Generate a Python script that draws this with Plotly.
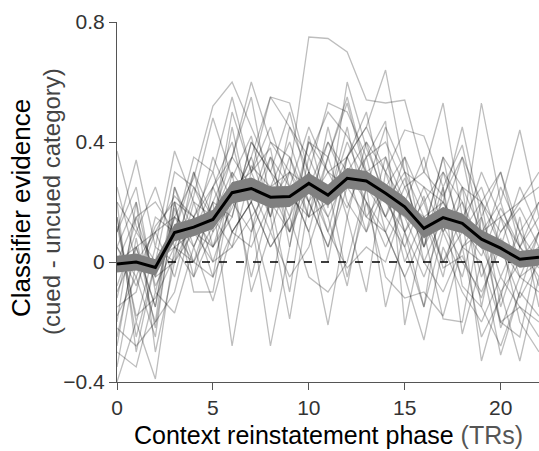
import plotly.graph_objects as go

trs = list(range(23))

mean_evidence = [-0.007, 0.0, -0.018, 0.098, 0.116, 0.142, 0.231, 0.245, 0.216, 0.218, 0.262, 0.223,
                 0.279, 0.27, 0.229, 0.184, 0.112, 0.148, 0.129, 0.076, 0.046, 0.009, 0.016]
sem_evidence = [0.028, 0.028, 0.027, 0.029, 0.030, 0.032, 0.036, 0.037, 0.036, 0.035, 0.035, 0.035,
                0.034, 0.033, 0.033, 0.033, 0.033, 0.035, 0.033, 0.031, 0.029, 0.028, 0.028]

subjects = [
    [0.05, -0.08, 0.10, 0.22, 0.15, 0.05, 0.18, 0.32, 0.25, 0.30, 0.75, 0.745, 0.70, 0.54, 0.53, 0.54, 0.30, 0.22, 0.35, 0.20, 0.10, 0.18, 0.05],
    [0.37, 0.12, -0.05, 0.15, 0.28, 0.52, 0.60, 0.45, 0.30, 0.22, 0.15, 0.35, 0.53, 0.28, 0.20, 0.10, -0.05, 0.12, 0.00, -0.10, 0.05, -0.12, 0.00],
    [-0.40, -0.20, -0.39, 0.05, 0.10, 0.25, 0.35, 0.60, 0.40, 0.35, 0.20, 0.30, 0.18, 0.35, 0.40, 0.25, 0.10, 0.20, 0.05, 0.15, -0.05, 0.10, -0.08],
    [0.10, 0.34, 0.05, 0.37, 0.20, 0.15, 0.30, 0.20, 0.05, 0.15, 0.30, 0.10, 0.35, 0.45, 0.64, 0.30, 0.25, 0.10, 0.20, 0.05, -0.10, 0.00, 0.10],
    [-0.30, -0.35, -0.10, -0.17, 0.05, -0.13, 0.10, 0.20, 0.35, 0.10, 0.25, 0.15, 0.30, 0.20, 0.10, -0.05, -0.26, 0.05, -0.10, -0.20, -0.05, -0.15, -0.20],
    [0.20, 0.10, 0.25, 0.05, 0.00, 0.20, -0.28, 0.10, 0.25, 0.40, 0.20, 0.05, 0.25, 0.30, 0.15, 0.35, 0.20, 0.30, 0.10, 0.53, 0.20, 0.44, 0.15],
    [-0.10, 0.05, -0.15, 0.20, -0.05, 0.25, 0.40, 0.15, -0.28, 0.05, 0.35, 0.20, 0.45, 0.15, 0.25, 0.00, 0.15, -0.05, 0.25, 0.10, 0.20, 0.00, 0.05],
    [0.15, -0.25, 0.00, 0.30, 0.25, 0.10, 0.20, 0.35, 0.15, -0.19, 0.20, 0.40, 0.30, 0.10, 0.35, 0.20, 0.05, 0.25, -0.24, 0.00, -0.31, -0.10, 0.10],
    [-0.20, 0.20, -0.30, 0.00, 0.30, 0.05, 0.25, 0.30, 0.45, 0.25, 0.10, -0.21, 0.15, 0.40, 0.30, 0.10, 0.20, 0.00, 0.15, -0.33, -0.10, -0.33, -0.05],
    [0.00, 0.15, 0.20, 0.10, 0.35, 0.30, 0.55, 0.30, 0.55, 0.45, 0.30, 0.53, 0.50, 0.35, 0.47, -0.21, 0.10, 0.35, 0.25, 0.20, 0.30, 0.05, 0.20],
    [-0.22, -0.28, -0.20, -0.10, 0.15, 0.30, 0.10, 0.05, 0.20, 0.30, 0.25, 0.10, -0.02, 0.05, 0.00, 0.20, 0.10, -0.19, -0.20, 0.15, -0.22, -0.05, -0.10],
    [0.25, 0.00, -0.20, 0.25, 0.05, 0.20, 0.15, 0.40, 0.30, 0.15, 0.40, 0.30, 0.35, 0.45, 0.30, 0.44, 0.42, 0.25, 0.39, 0.10, 0.15, 0.20, 0.25],
    [-0.15, -0.10, 0.15, 0.10, 0.00, -0.05, 0.30, -0.10, 0.10, -0.05, 0.05, 0.25, -0.05, 0.20, -0.05, -0.12, -0.10, -0.18, 0.05, -0.25, -0.12, 0.15, -0.15],
    [0.10, 0.25, -0.10, 0.15, 0.10, 0.35, 0.20, 0.10, 0.35, 0.25, 0.45, 0.30, 0.25, 0.35, 0.10, 0.25, 0.30, 0.53, 0.15, 0.25, 0.05, -0.05, 0.10],
    [-0.25, 0.05, 0.10, -0.05, 0.20, 0.00, 0.05, 0.30, 0.15, 0.35, 0.15, 0.20, 0.40, 0.25, 0.45, 0.30, 0.00, 0.15, 0.35, 0.05, 0.25, 0.10, 0.00],
    [0.05, -0.05, -0.25, 0.20, -0.10, -0.10, 0.25, -0.05, 0.20, -0.10, 0.30, 0.15, -0.08, 0.25, 0.15, 0.05, -0.15, 0.10, -0.05, 0.20, -0.15, 0.05, 0.15],
    [-0.08, 0.10, 0.00, 0.05, 0.25, 0.15, 0.35, 0.55, 0.20, 0.10, 0.40, 0.35, 0.55, 0.30, 0.35, 0.10, 0.25, 0.20, 0.10, 0.30, 0.15, 0.05, -0.05],
    [0.15, -0.20, 0.05, 0.00, 0.15, 0.25, 0.10, 0.20, 0.40, 0.30, 0.15, 0.45, 0.20, 0.10, 0.25, 0.35, 0.05, 0.30, 0.20, -0.05, 0.10, 0.20, 0.30],
    [-0.35, 0.00, 0.10, 0.15, 0.05, 0.20, 0.35, 0.25, 0.10, 0.30, 0.20, 0.05, 0.30, 0.40, 0.20, 0.15, 0.00, -0.10, 0.05, 0.10, -0.20, -0.15, -0.25],
    [0.00, 0.05, -0.15, 0.25, 0.10, 0.00, 0.20, 0.35, 0.55, 0.53, 0.30, 0.20, 0.35, 0.20, 0.05, 0.20, 0.15, 0.00, 0.10, 0.20, 0.05, 0.25, 0.10],
    [0.20, -0.30, 0.00, 0.10, 0.30, 0.15, 0.05, 0.15, -0.10, 0.25, 0.10, 0.35, 0.15, -0.10, 0.30, 0.20, 0.35, 0.10, 0.25, -0.15, 0.15, -0.05, 0.00],
    [-0.12, 0.15, -0.05, 0.00, 0.10, 0.05, 0.15, 0.40, 0.30, 0.50, 0.25, 0.40, 0.25, 0.15, 0.10, -0.05, 0.10, 0.35, 0.05, 0.00, -0.20, -0.25, 0.05],
    [0.05, 0.20, -0.08, 0.05, -0.05, 0.10, 0.45, 0.15, 0.25, 0.10, 0.30, 0.00, 0.35, 0.50, 0.20, 0.30, 0.15, 0.20, 0.45, 0.15, 0.30, 0.10, 0.20],
    [-0.18, -0.05, 0.12, 0.20, 0.15, -0.05, 0.10, 0.20, 0.05, 0.15, -0.05, -0.10, 0.00, 0.25, -0.15, 0.10, -0.15, 0.25, -0.08, -0.15, -0.28, -0.10, -0.18],
    [0.12, -0.18, -0.12, 0.02, 0.22, 0.48, 0.28, 0.42, 0.15, 0.45, 0.35, 0.50, 0.42, 0.30, 0.15, 0.28, 0.05, 0.18, 0.12, 0.02, 0.18, 0.05, -0.02],
    [-0.28, 0.08, -0.22, 0.18, 0.00, 0.12, 0.50, 0.30, 0.38, 0.05, 0.42, 0.18, 0.60, 0.38, 0.22, 0.05, 0.22, -0.02, 0.02, -0.12, 0.08, -0.20, -0.30],
]

y_tickvals = [-0.4, 0, 0.4, 0.8]
y_ticktext = ["\u22120.4", "0", "0.4", "0.8"]
x_tickvals = [0, 5, 10, 15, 20]

FONT = "Liberation Sans, Arial, Helvetica, sans-serif"

fig = go.Figure()

for s in subjects:
    fig.add_trace(go.Scatter(x=trs, y=s, mode="lines",
                             line=dict(color="rgba(0,0,0,0.26)", width=1.3),
                             hoverinfo="skip", showlegend=False))

fig.add_trace(go.Scatter(x=[trs[0], trs[-1]], y=[0, 0], mode="lines",
                         line=dict(color="black", width=1.5, dash="8px,9px"),
                         hoverinfo="skip", showlegend=False))

upper = [m + e for m, e in zip(mean_evidence, sem_evidence)]
lower = [m - e for m, e in zip(mean_evidence, sem_evidence)]
fig.add_trace(go.Scatter(x=trs + trs[::-1], y=upper + lower[::-1], mode="lines",
                         fill="toself", fillcolor="rgb(128,128,128)",
                         line=dict(width=0), hoverinfo="skip", showlegend=False))
fig.add_trace(go.Scatter(x=trs, y=mean_evidence, mode="lines",
                         line=dict(color="black", width=3),
                         showlegend=False))

axis_common = dict(showgrid=False, zeroline=False, showline=True, linecolor="#555",
                   linewidth=1, ticks="outside", ticklen=7, tickcolor="#555",
                   tickfont=dict(family=FONT, size=21, color="#333"))

fig.update_xaxes(range=[0, 22], tickvals=x_tickvals, **axis_common)
fig.update_yaxes(range=[-0.4, 0.8], tickvals=y_tickvals, ticktext=y_ticktext, **axis_common)

fig.add_annotation(text="Classifier evidence", xref="paper", yref="paper", x=0, y=0.483,
                   xshift=-96, textangle=-90, showarrow=False, xanchor="center", yanchor="middle",
                   font=dict(family=FONT, size=26, color="black"))
fig.add_annotation(text="(cued - uncued category)", xref="paper", yref="paper", x=0, y=0.5,
                   xshift=-66, textangle=-90, showarrow=False, xanchor="center", yanchor="middle",
                   font=dict(family=FONT, size=24, color="#444"))
fig.add_annotation(text="Context reinstatement phase <span style='color:#555'>(TRs)</span>",
                   xref="paper", yref="paper", x=0.5, y=0, yshift=-53, showarrow=False,
                   xanchor="center", yanchor="middle",
                   font=dict(family=FONT, size=25, color="black"))

fig.update_layout(width=539, height=451, margin=dict(l=117, r=0, t=22, b=69),
                  plot_bgcolor="white", paper_bgcolor="white")

fig.write_html("out.html", config={"displayModeBar": False},
               post_script="document.body.style.margin='0';document.body.style.padding='0';"
                           "document.body.style.overflow='hidden';")
